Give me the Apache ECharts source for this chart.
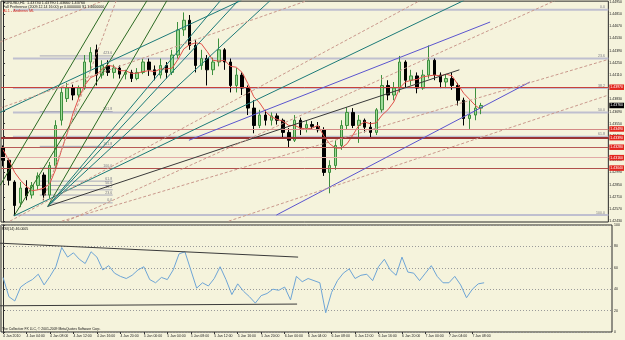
<!DOCTYPE html>
<html>
<head>
<meta charset="utf-8">
<title>EURUSD,H1</title>
<script src="https://cdn.jsdelivr.net/npm/echarts@6.0.0/dist/echarts.min.js"></script>
<style>
  html, body { margin: 0; padding: 0; background: #f5f3dc; }
  #main { width: 625px; height: 340px; }
</style>
</head>
<body>
<div id="main"></div>
<script>
// time labels, one every 4 H1 bars
var timeLabels = ['4 Jan 2010', '4 Jan 04:00', '4 Jan 08:00', '4 Jan 12:00', '4 Jan 16:00', '4 Jan 20:00',
  '5 Jan 00:00', '5 Jan 04:00', '5 Jan 08:00', '5 Jan 12:00', '5 Jan 16:00', '5 Jan 20:00',
  '6 Jan 00:00', '6 Jan 04:00', '6 Jan 08:00', '6 Jan 12:00', '6 Jan 16:00', '6 Jan 20:00',
  '7 Jan 00:00', '7 Jan 04:00', '7 Jan 08:00'];

// price scale labels (right axis)
var priceTicks = [1.4243, 1.4257, 1.4271, 1.4285, 1.4299, 1.4313, 1.4327, 1.4341, 1.4355, 1.4369,
  1.4383, 1.4397, 1.4411, 1.4425, 1.4439, 1.4453, 1.4467, 1.4481, 1.4495];

// EURUSD H1 bars: [open, close, low, high]
var candles = [
  [1.4327, 1.4313, 1.4306, 1.4330], [1.4313, 1.4290, 1.4284, 1.4315], [1.4288, 1.4261, 1.4249, 1.4290],
  [1.4264, 1.4281, 1.4259, 1.4288], [1.4281, 1.4272, 1.4267, 1.4290], [1.4273, 1.4284, 1.4269, 1.4288],
  [1.4284, 1.4295, 1.4279, 1.4299], [1.4296, 1.4273, 1.4267, 1.4299], [1.4273, 1.4307, 1.4269, 1.4311],
  [1.4307, 1.4353, 1.4304, 1.4359], [1.4359, 1.4391, 1.4353, 1.4397], [1.4384, 1.4396, 1.4380, 1.4402],
  [1.4396, 1.4388, 1.4382, 1.4400], [1.4388, 1.4396, 1.4384, 1.4399], [1.4396, 1.4426, 1.4394, 1.4434],
  [1.4426, 1.4437, 1.4417, 1.4443], [1.4440, 1.4411, 1.4399, 1.4446], [1.4411, 1.4422, 1.4407, 1.4428],
  [1.4422, 1.4414, 1.4410, 1.4428], [1.4414, 1.4419, 1.4407, 1.4423], [1.4419, 1.4412, 1.4407, 1.4422],
  [1.4412, 1.4414, 1.4406, 1.4417], [1.4414, 1.4407, 1.4403, 1.4417], [1.4407, 1.4414, 1.4405, 1.4419],
  [1.4414, 1.4426, 1.4412, 1.4430], [1.4426, 1.4417, 1.4410, 1.4430], [1.4417, 1.4411, 1.4405, 1.4422],
  [1.4411, 1.4422, 1.4407, 1.4430], [1.4422, 1.4414, 1.4407, 1.4426], [1.4414, 1.4434, 1.4411, 1.4440],
  [1.4434, 1.4463, 1.4430, 1.4472], [1.4463, 1.4474, 1.4456, 1.4483], [1.4474, 1.4445, 1.4440, 1.4480],
  [1.4445, 1.4422, 1.4414, 1.4451], [1.4422, 1.4430, 1.4417, 1.4440], [1.4430, 1.4417, 1.4399, 1.4434],
  [1.4417, 1.4426, 1.4411, 1.4431], [1.4426, 1.4440, 1.4421, 1.4453], [1.4440, 1.4426, 1.4417, 1.4442],
  [1.4426, 1.4399, 1.4391, 1.4430], [1.4399, 1.4411, 1.4391, 1.4419], [1.4411, 1.4396, 1.4388, 1.4414],
  [1.4396, 1.4373, 1.4365, 1.4399], [1.4373, 1.4353, 1.4344, 1.4382], [1.4353, 1.4365, 1.4350, 1.4371],
  [1.4365, 1.4359, 1.4353, 1.4371], [1.4359, 1.4364, 1.4353, 1.4368], [1.4364, 1.4359, 1.4354, 1.4367],
  [1.4359, 1.4345, 1.4339, 1.4361], [1.4345, 1.4336, 1.4328, 1.4350], [1.4336, 1.4359, 1.4334, 1.4365],
  [1.4359, 1.4350, 1.4342, 1.4362], [1.4350, 1.4354, 1.4345, 1.4359], [1.4354, 1.4352, 1.4348, 1.4358],
  [1.4352, 1.4348, 1.4345, 1.4357], [1.4348, 1.4299, 1.4295, 1.4351], [1.4299, 1.4307, 1.4275, 1.4313],
  [1.4307, 1.4330, 1.4302, 1.4336], [1.4330, 1.4353, 1.4325, 1.4359], [1.4353, 1.4368, 1.4348, 1.4374],
  [1.4368, 1.4353, 1.4350, 1.4373], [1.4353, 1.4359, 1.4333, 1.4365], [1.4359, 1.4351, 1.4345, 1.4361],
  [1.4351, 1.4345, 1.4339, 1.4357], [1.4345, 1.4371, 1.4342, 1.4373], [1.4371, 1.4399, 1.4368, 1.4411],
  [1.4399, 1.4388, 1.4382, 1.4405], [1.4388, 1.4396, 1.4382, 1.4403], [1.4396, 1.4426, 1.4391, 1.4433],
  [1.4426, 1.4405, 1.4397, 1.4428], [1.4405, 1.4410, 1.4399, 1.4417], [1.4410, 1.4396, 1.4390, 1.4414],
  [1.4396, 1.4411, 1.4394, 1.4417], [1.4411, 1.4428, 1.4407, 1.4445], [1.4428, 1.4411, 1.4405, 1.4430],
  [1.4411, 1.4403, 1.4396, 1.4414], [1.4403, 1.4407, 1.4396, 1.4412], [1.4407, 1.4399, 1.4394, 1.4414],
  [1.4399, 1.4382, 1.4376, 1.4402], [1.4382, 1.4361, 1.4353, 1.4385], [1.4361, 1.4365, 1.4349, 1.4382],
  [1.4365, 1.4373, 1.4359, 1.4396], [1.4373, 1.4376, 1.4366, 1.4379]
];

// moving average (red curve)
var maValues = [
  1.4325, 1.4313, 1.4299, 1.4290, 1.4283, 1.4278, 1.4279, 1.4281, 1.4286, 1.4302,
  1.4324, 1.4344, 1.4367, 1.4385, 1.4399, 1.4408, 1.4411, 1.4418, 1.4422, 1.4421,
  1.4416, 1.4416, 1.4413, 1.4413, 1.4415, 1.4416, 1.4415, 1.4418, 1.4418, 1.4419,
  1.4429, 1.4441, 1.4446, 1.4448, 1.4447, 1.4438, 1.4428, 1.4427, 1.4428, 1.4421,
  1.4420, 1.4414, 1.4401, 1.4386, 1.4379, 1.4369, 1.4363, 1.4360, 1.4358, 1.4353,
  1.4353, 1.4350, 1.4349, 1.4350, 1.4353, 1.4341, 1.4332, 1.4327, 1.4327, 1.4332,
  1.4342, 1.4353, 1.4357, 1.4355, 1.4356, 1.4365, 1.4371, 1.4380, 1.4396, 1.4403,
  1.4405, 1.4406, 1.4409, 1.4410, 1.4411, 1.4410, 1.4412, 1.4410, 1.4400, 1.4390,
  1.4383, 1.4376, 1.4371
];

// RSI(14)
var rsiValues = [
  51, 33, 29, 42, 46, 49, 54, 44, 52, 61,
  79, 70, 74, 68, 64, 75, 70, 58, 62, 55,
  52, 50, 53, 58, 61, 49, 46, 51, 49, 58,
  73, 75, 58, 41, 46, 43, 50, 61, 49, 35,
  45, 38, 33, 27, 34, 36, 40, 39, 42, 30,
  52, 47, 50, 48, 46, 18, 37, 48, 55, 59,
  50, 53, 54, 48, 61, 68, 58, 53, 70, 56,
  55, 48, 55, 62, 52, 46, 46, 52, 44, 32,
  40, 45, 46
];

// fibonacci retracement (big) and expansion (small)
var fibMainLevels = ['0.0', '23.6', '38.2', '50.0', '61.8', '100.0'];
var fibMainPrices = [1.4486, 1.4430, 1.4396, 1.4368, 1.4340, 1.4250];
var fibSmallLevels = ['0.0', '23.6', '38.2', '50.0', '61.8', '100.0', '161.8', '261.8', '423.6'];
var fibSmallPrices = [1.4264, 1.4273, 1.4279, 1.4284, 1.4289, 1.4304, 1.4329, 1.4369, 1.4433];

// horizontal support / resistance lines
var redLevels = [1.4397, 1.4349, 1.4339, 1.4328, 1.4316, 1.4304];
var bidPrice = 1.4376;

// drawn trend lines: [bar1, price1, bar2, price2]
var greenLines = [[-0.51, 1.4284, 18.24, 1.4497], [1.88, 1.4249, 24.72, 1.4497], [7.67, 1.4260, 28.13, 1.4497]];
var tealLines = [[7.67, 1.4260, 37.33, 1.4497], [7.67, 1.4260, 40.4, 1.4497], [7.67, 1.4260, 45.86, 1.4497],
  [1.88, 1.4249, 79.1, 1.4497], [-0.51, 1.4368, 40.91, 1.4497]];
var blueLines = [[31.88, 1.4336, 83.53, 1.4472], [46.88, 1.4250, 90.35, 1.4403]];
var blackLines = [[7.67, 1.4260, 78.25, 1.4417]];
var dashLines = [[-0.51, 1.4449, 17.39, 1.4497], [1.19, 1.4243, 71.6, 1.4497], [10.91, 1.4243, 94.78, 1.4497],
  [10.06, 1.4243, 103.82, 1.4429], [38.7, 1.4243, 103.82, 1.4388], [6.82, 1.4267, 19.43, 1.4497],
  [-0.51, 1.4373, 52.34, 1.4497]];
var rsiLines = [[-0.51, 83, 50.29, 70], [-0.51, 24.5, 50.12, 26.1]];

var FONT = 'Liberation Sans';
var SMALL = 3.5;
var xMin = -0.35, xMax = 103.8;
var tickBars = timeLabels.map(function (t, k) { return k * 4; });

function seg(s, color, width, dash, z, xi, yi) {
  return {
    type: 'line', xAxisIndex: xi || 0, yAxisIndex: yi || 0,
    data: [[s[0], s[1]], [s[2], s[3]]],
    symbol: 'none', silent: true, clip: true, z: z, animation: false,
    lineStyle: { color: color, width: width, type: dash || 'solid' }
  };
}

function fibLabels(levels, prices, x) {
  return {
    type: 'scatter', xAxisIndex: 0, yAxisIndex: 0, silent: true, z: 3, animation: false,
    data: prices.map(function (p) { return [x, p]; }),
    symbolSize: 1, itemStyle: { color: 'rgba(0,0,0,0)' },
    label: {
      show: true, position: 'top', align: 'right', distance: 0,
      fontSize: SMALL, fontFamily: FONT, color: '#55556a',
      formatter: function (p) { return levels[p.dataIndex]; }
    }
  };
}

var redColors = ['#c8413c', '#d48a86', '#9a3434', '#b85a56', '#e2aaa6', '#b0504c'];
var redWidths = [1, 1, 2, 1, 1, 1];

var markData = redLevels.map(function (p, k) {
  return {
    yAxis: p,
    lineStyle: { color: redColors[k], width: redWidths[k], type: 'solid' },
    label: { show: true, position: 'end', distance: 1, formatter: p.toFixed(5), color: '#fff',
      backgroundColor: '#e3261e', fontSize: SMALL, fontFamily: FONT, padding: [1, 1, 0.5, 1] }
  };
});
markData.push({
  yAxis: bidPrice,
  lineStyle: { color: 'rgba(0,0,0,0)' },
  label: { show: true, position: 'end', distance: 1, formatter: bidPrice.toFixed(5), color: '#fff',
    backgroundColor: '#000', fontSize: SMALL, fontFamily: FONT, padding: [1, 1, 0.5, 1] }
});

var series = [];

fibMainPrices.forEach(function (p) { series.push(seg([1.7, p, xMax, p], '#bfbfcf', 2, null, 1)); });
fibSmallPrices.forEach(function (p, k) { series.push(seg([k === 0 ? 8 : 6.3, p, 18.8, p], '#a8a8b8', 1, null, 1)); });
series.push(fibLabels(fibMainLevels, fibMainPrices, 103.2));
series.push(fibLabels(fibSmallLevels, fibSmallPrices, 18.7));

series.push({
  type: 'candlestick', xAxisIndex: 0, yAxisIndex: 0, z: 3, animation: false,
  data: candles.map(function (c, i) { return [i, c[0], c[1], c[2], c[3]]; }),
  encode: { x: 0, y: [1, 2, 3, 4] },
  barWidth: 3,
  itemStyle: { color: '#9edb98', color0: '#000000', borderColor: '#3d8f3d', borderColor0: '#000000', borderWidth: 1 },
  markLine: { silent: true, symbol: ['none', 'none'], precision: 5, animation: false, data: markData }
});

series.push({
  type: 'line', xAxisIndex: 0, yAxisIndex: 0, z: 4, animation: false, silent: true,
  data: maValues.map(function (v, i) { return [i, v]; }),
  symbol: 'none', lineStyle: { color: '#e2514a', width: 1 }
});

greenLines.forEach(function (s) { series.push(seg(s, '#2b6a22', 1, null, 5)); });
tealLines.forEach(function (s) { series.push(seg(s, '#1c7a78', 1, null, 5)); });
blueLines.forEach(function (s) { series.push(seg(s, '#5b55cf', 1, null, 5)); });
blackLines.forEach(function (s) { series.push(seg(s, '#3a3a3a', 1, null, 5)); });
dashLines.forEach(function (s) { series.push(seg(s, '#c9988c', 1, [3, 2], 5)); });

series.push({
  type: 'line', xAxisIndex: 1, yAxisIndex: 1, z: 4, animation: false, silent: true,
  data: rsiValues.map(function (v, i) { return [i, v]; }),
  symbol: 'none', lineStyle: { color: '#6ea5d6', width: 1 }
});
rsiLines.forEach(function (s) { series.push(seg(s, '#3a3a3a', 1, null, 5, 1, 1)); });

function xAxis(gi, show) {
  return {
    type: 'value', gridIndex: gi, min: xMin, max: xMax,
    axisLine: { show: false }, splitLine: { show: false },
    axisTick: { show: show, customValues: tickBars, length: 2, lineStyle: { color: '#333' } },
    axisLabel: {
      show: show, customValues: tickBars, align: 'left', margin: 2,
      fontSize: SMALL, fontFamily: FONT, color: '#222',
      formatter: function (v) { return timeLabels[Math.round(v / 4)] || ''; }
    }
  };
}

var chart = echarts.init(document.getElementById('main'));
chart.setOption({
  backgroundColor: '#f5f3dc',
  animation: false,
  grid: [
    { left: 1, right: 13, top: 1, height: 221, show: true, borderColor: '#2a2a2a', borderWidth: 1, backgroundColor: '#f5f3dc' },
    { left: 1, right: 13, top: 225, height: 107, show: true, borderColor: '#2a2a2a', borderWidth: 1, backgroundColor: '#f5f3dc' }
  ],
  xAxis: [xAxis(0, false), xAxis(1, true)],
  yAxis: [
    {
      type: 'value', gridIndex: 0, position: 'right', scale: true, min: 1.4242, max: 1.4496,
      axisLine: { show: true, lineStyle: { color: '#2a2a2a' } },
      axisTick: { show: true, customValues: priceTicks, length: 2, lineStyle: { color: '#333' } },
      splitLine: { show: false },
      axisLabel: {
        customValues: priceTicks, margin: 1, fontSize: SMALL, fontFamily: FONT, color: '#222',
        formatter: function (v) { return v.toFixed(5); }
      }
    },
    {
      type: 'value', gridIndex: 1, position: 'right', min: 0, max: 100, interval: 20,
      axisLine: { show: true, lineStyle: { color: '#2a2a2a' } },
      axisTick: { show: true, length: 2, lineStyle: { color: '#333' } },
      splitLine: { show: true, lineStyle: { color: '#9a9a9a', type: [1, 2], width: 1 } },
      axisLabel: { margin: 2, fontSize: SMALL, fontFamily: FONT, color: '#222' }
    }
  ],
  graphic: [
    { type: 'text', x: 3, y: 0.5, silent: true, z: 10,
      style: { text: 'EURUSD,H1  1.43730 1.43790 1.43660 1.43760', fontSize: 3.8, fontFamily: FONT, fill: '#111', verticalAlign: 'top' } },
    { type: 'text', x: 3, y: 4.6, silent: true, z: 10,
      style: { text: 'Fall Preference (2009.12.14 16:00) pr 0.0000000 S1 1.4600000', fontSize: 3.6, fontFamily: FONT, fill: '#111', verticalAlign: 'top' } },
    { type: 'text', x: 3, y: 8.8, silent: true, z: 10,
      style: { text: 'AL1 - Andrews ML', fontSize: 3.8, fontFamily: FONT, fill: '#d42a22', verticalAlign: 'top' } },
    { type: 'text', x: 2, y: 227, silent: true, z: 10,
      style: { text: 'RSI(14) 46.0005', fontSize: 3.6, fontFamily: FONT, fill: '#111', verticalAlign: 'top' } },
    { type: 'text', x: 2, y: 328, silent: true, z: 10,
      style: { text: 'The Collective FX LLC, \u00a9 2001-2009 MetaQuotes Software Corp.', fontSize: 3.4, fontFamily: FONT, fill: '#111', verticalAlign: 'top' } }
  ],
  series: series
});
</script>
</body>
</html>
